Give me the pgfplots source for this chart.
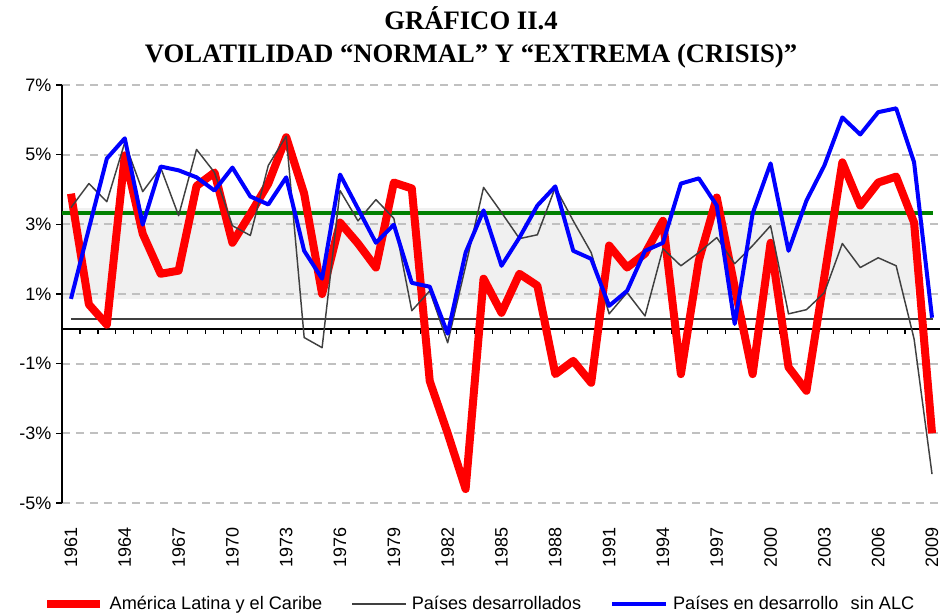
\documentclass[border=0pt]{standalone}
\usepackage{pgfplots}
\pgfplotsset{compat=1.18}
\usepackage{pgfplotstable}
\usepackage{fontspec}
\setmainfont{Liberation Sans}
\newfontfamily\titlefont{Liberation Serif}
\definecolor{cred}{RGB}{255,0,0}
\definecolor{cblue}{RGB}{0,0,255}
\definecolor{cgreen}{RGB}{0,128,0}
\definecolor{cdark}{RGB}{64,64,64}
\definecolor{cgrid}{RGB}{192,192,192}
\definecolor{cband}{RGB}{240,240,240}

\pgfplotstableread{
year lac dev dsa
1961 3.88 3.48 0.86
1962 0.70 4.17 2.88
1963 0.12 3.65 4.89
1964 4.98 5.35 5.47
1965 2.73 3.94 2.99
1966 1.58 4.63 4.66
1967 1.67 3.25 4.55
1968 4.10 5.15 4.35
1969 4.49 4.49 3.97
1970 2.47 2.96 4.63
1971 3.30 2.68 3.80
1972 4.17 4.69 3.57
1973 5.50 5.53 4.35
1974 3.88 -0.25 2.24
1975 1.00 -0.54 1.44
1976 3.05 3.97 4.43
1977 2.45 3.10 3.45
1978 1.76 3.71 2.47
1979 4.20 3.17 2.99
1980 4.03 0.52 1.32
1981 -1.50 1.09 1.21
1982 -3.00 -0.40 -0.14
1983 -4.60 1.80 2.19
1984 1.44 4.06 3.40
1985 0.46 3.34 1.81
1986 1.58 2.59 2.62
1987 1.24 2.70 3.54
1988 -1.30 4.06 4.09
1989 -0.92 3.10 2.24
1990 -1.55 2.19 2.01
1991 2.39 0.43 0.66
1992 1.76 1.04 1.09
1993 2.16 0.37 2.24
1994 3.10 2.30 2.47
1995 -1.30 1.81 4.17
1996 1.96 2.19 4.32
1997 3.77 2.62 3.54
1998 1.20 1.87 0.14
1999 -1.30 2.39 3.31
2000 2.47 2.96 4.75
2001 -1.10 0.43 2.24
2002 -1.78 0.55 3.68
2003 1.50 1.04 4.69
2004 4.78 2.45 6.07
2005 3.54 1.76 5.58
2006 4.20 2.04 6.22
2007 4.37 1.81 6.33
2008 3.05 -0.29 4.78
2009 -3.00 -4.17 0.32
}\data

\begin{document}
\begin{tikzpicture}
\begin{axis}[
  name=ax, set layers,
  scale only axis, width=659.25pt, height=313.5pt,
  xmin=1960.5, xmax=2009.5, ymin=-5, ymax=7,
  axis y line=left, axis x line=bottom,
  x axis line style={draw=none},
  y axis line style={line width=1.3pt, -},
  xtick={1961,1964,...,2009},
  xticklabels={1961,1964,1967,1970,1973,1976,1979,1982,1985,1988,1991,1994,1997,2000,2003,2006,2009},
  xticklabel style={rotate=90, anchor=east, font=\fontsize{13.5}{15}\selectfont},
  xticklabel shift=10pt,
  xtick style={draw=none},
  ytick={-5,-3,...,7},
  yticklabels={-5\%,-3\%,-1\%,1\%,3\%,5\%,7\%},
  yticklabel style={font=\fontsize{13.5}{15}\selectfont},
  ytick style={black, line width=1pt},
  tick align=outside, major tick length=4.5pt,
  ymajorgrids,
  major grid style={cgrid, line width=1.3pt, dash pattern=on 6pt off 4.5pt},
  legend style={at={(0.4755,-0.242)}, anchor=center, draw=none, fill=none,
    font=\fontsize{13.6}{15}\selectfont,
    /tikz/every odd column/.append style={column sep=2pt},
    /tikz/every even column/.append style={column sep=20pt}},
  legend columns=3,
  legend cell align=left,
  legend image code/.code={\draw[#1] (0pt,0pt) -- (40pt,0pt);},
  line join=round,
]
\addplot[fill=cband, draw=none, forget plot, on layer=axis background]
  coordinates {(1960.5,0.87) (2008.05,0.87) (2008.05,3.48) (1960.5,3.48)} -- cycle;
\addplot[cgreen, line width=3pt, forget plot] coordinates {(1960.5,3.33) (2009.05,3.33)};
\addplot[cdark, line width=1.6pt, forget plot] coordinates {(1961,0.27) (2009.05,0.27)};
\addplot[black, line width=1.4pt, forget plot] coordinates {(1960.5,0) (2009.5,0)};
\pgfplotsinvokeforeach{1961.5,1962.5,...,2008.5}{
  \draw[black, line width=1pt] (axis cs:#1,0) -- ++(0pt,-4pt);
}
\addplot[cred, line width=6pt] table[x=year, y=lac] {\data};
\addlegendentry{América Latina y el Caribe}
\addplot[cdark, line width=1.1pt] table[x=year, y=dev] {\data};
\addlegendentry{Países desarrollados}
\addplot[cblue, line width=3pt] table[x=year, y=dsa] {\data};
\addlegendentry{Países en desarrollo\hspace{0.4em} sin ALC}
\end{axis}
\node[anchor=base, font=\titlefont\bfseries\fontsize{20}{24}\selectfont]
  at ([shift={(306.75pt,354.75pt)}]ax.south west) {GRÁFICO II.4};
\node[anchor=base, font=\titlefont\bfseries\fontsize{20}{24}\selectfont]
  at ([shift={(306.75pt,330pt)}]ax.south west) {VOLATILIDAD “NORMAL” Y “EXTREMA (CRISIS)”};
\pgfresetboundingbox
\path ([shift={(-46.5pt,-84pt)}]ax.south west) rectangle ([shift={(658.5pt,377.25pt)}]ax.south west);
\end{tikzpicture}
\end{document}
